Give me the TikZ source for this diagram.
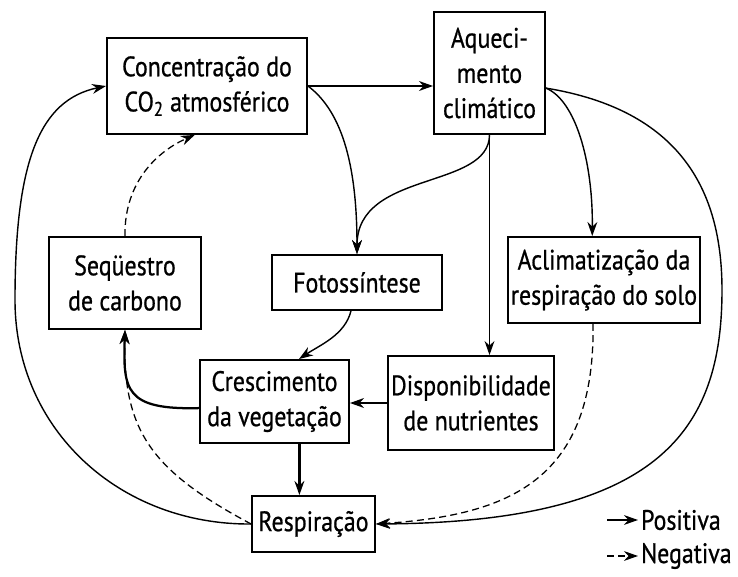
\documentclass[tikz,border=0pt]{standalone}
\usepackage{fontspec}
\setmainfont{PT Sans}[FakeStretch=0.85, FakeBold=0.7]
\usetikzlibrary{arrows.meta}

\begin{document}
\begin{tikzpicture}[x=0.025cm, y=-0.025cm,
    caixa/.style={draw, line width=1.3pt, align=center, inner sep=2pt, font=\fontsize{20}{25}\selectfont},
    seta/.style={line width=1pt, -{Stealth[length=10pt, width=7pt]}},
    grossa/.style={seta, line width=1.6pt},
    neg/.style={seta, line width=0.9pt, dash pattern=on 5pt off 3pt},
    legenda/.style={anchor=west, inner sep=2pt, font=\fontsize{20}{25}\selectfont}]
    \useasboundingbox (0,0) rectangle (738,577);
    \node[caixa, minimum width=5cm, minimum height=2.4cm] (co2) at (207,86) {Concentração do\\CO\textsubscript{2} atmosférico};
    \node[caixa, minimum width=2.775cm, minimum height=3.05cm] (aquec) at (489.5,73) {Aqueci-\\mento\\climático};
    \node[caixa, minimum width=3.8cm, minimum height=2.3cm] (seq) at (125,283) {Seqüestro\\de carbono};
    \node[caixa, minimum width=4.25cm, minimum height=1.375cm] (foto) at (357,282.5) {Fotossíntese};
    \node[caixa, minimum width=4.8cm, minimum height=2.15cm] (aclim) at (604,280) {Aclimatização da\\respiração do solo};
    \node[caixa, minimum width=3.725cm, minimum height=2.075cm] (cresc) at (274.5,401.5) {Crescimento\\da vegetação};
    \node[caixa, minimum width=4.1cm, minimum height=2.35cm] (nutri) at (471,403) {Disponibilidade\\de nutrientes};
    \node[caixa, minimum width=3.075cm, minimum height=1.4cm] (resp) at (313.5,524) {Respiração};

    \draw[grossa] (co2.east) -- (co2.east -| aquec.west);
    \draw[seta] (co2.east) .. controls (340,110) and (357,160) .. (foto.north);
    \draw[seta] (aquec.south) .. controls (489,190) and (357,170) .. (foto.north);
    \draw[seta] (aquec.south) -- (aquec.south |- nutri.north);
    \draw[seta] (aquec.-15) .. controls (575,100) and (593,160) .. (aclim.105);
    \draw[seta] (aquec.-15) .. controls (680,110) and (722,190) .. (722,290) .. controls (722,430) and (660,522) .. (resp.east);
    \draw[neg] (aclim.-104) .. controls (595,480) and (510,515) .. (resp.east);
    \draw[seta] (foto.258) .. controls (345,335) and (320,345) .. (cresc.60);
    \draw[grossa] (nutri.west) -- (nutri.west -| cresc.east);
    \draw[grossa] (cresc.185) .. controls (125,410) and (123,390) .. (seq.south);
    \draw[neg] (resp.west) .. controls (150,470) and (123,430) .. (seq.south);
    \draw[grossa] (resp.116 |- cresc.south) -- (resp.116);
    \draw[seta] (resp.west) .. controls (120,525) and (15,430) .. (15,300) .. controls (15,160) and (40,100) .. (co2.west);
    \draw[neg] (seq.north) .. controls (124,180) and (160,150) .. (co2.256);

    \node[legenda] (positiva) at (638,520) {Positiva};
    \node[legenda] (negativa) at (638,556) {Negativa};
    \coordinate (p0) at (607,520);
    \coordinate (n0) at (607,556);
    \draw[seta] (p0) -- (positiva.west);
    \draw[neg] (n0) -- (negativa.west);
\end{tikzpicture}
\end{document}
